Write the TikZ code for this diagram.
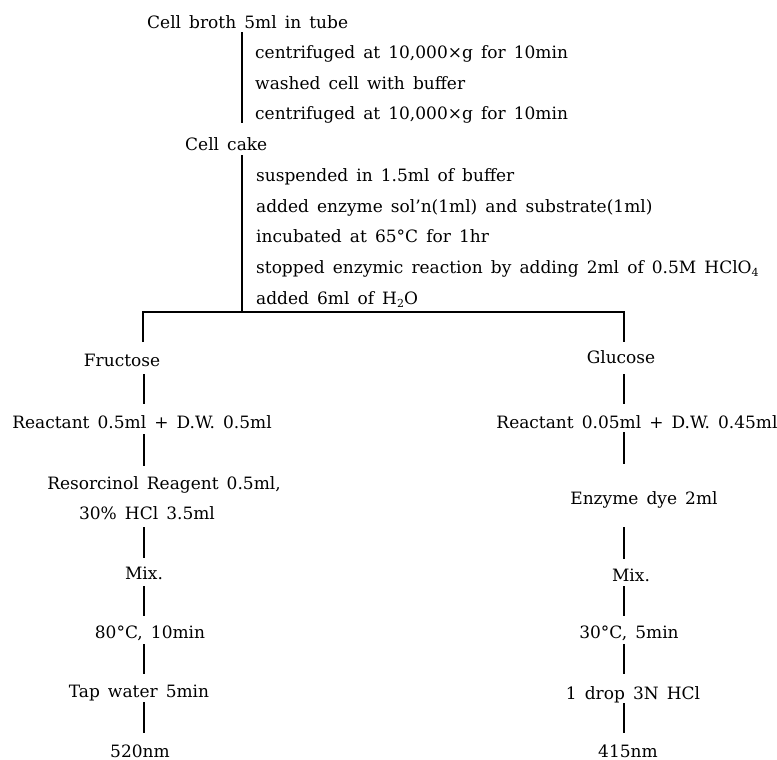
\documentclass[tikz,border=0pt]{standalone}
\usepackage{fontspec}
\setmainfont{DejaVu Serif}[WordSpace={1.5,0,0}]
\newcommand\subn[1]{\raisebox{-3pt}{\fontsize{11}{11}\selectfont #1}}
\newcommand\diagfont{\fontsize{17}{20}\selectfont}
\begin{document}
\begin{tikzpicture}[x=1pt,y=-1pt,
  txt/.style={inner sep=0pt,text height=12.5pt,text depth=0pt,font=\diagfont},
  lft/.style={txt,anchor=west},
  ln/.style={line width=1.7pt},
  conn/.style={ln,shorten <=7pt,shorten >=11pt}]
\useasboundingbox (0,0) rectangle (777,760);
% top sequence
\node[lft] (broth) at (147,22) {Cell broth 5ml in tube};
\node[lft] (s1) at (255,52.5) {centrifuged at 10,000×g for 10min};
\node[lft] (s2) at (255,83) {washed cell with buffer};
\node[lft] (s3) at (255,113.5) {centrifuged at 10,000×g for 10min};
\node[lft] (cake) at (185,144) {Cell cake};
\node[lft] (t1) at (256,175) {suspended in 1.5ml of buffer};
\node[lft] (t2) at (256,206) {added enzyme sol'n(1ml) and substrate(1ml)};
\node[lft] (t3) at (256,236.5) {incubated at 65°C for 1hr};
\node[lft] (t4) at (256,267) {stopped enzymic reaction by adding 2ml of 0.5M HClO\subn{4}};
\node[lft] (t5) at (256,298) {added 6ml of H\subn{2}O};
\coordinate (ax) at (242,0);
\coordinate (br) at (242,312);
\coordinate (bl) at (143,312);
\coordinate (brr) at (624,312);
\coordinate (tl) at (143,342);
\coordinate (tr) at (624,342);
\coordinate (cl) at (144,0);
\coordinate (cr) at (624,0);
\draw[ln,shorten <=4pt,shorten >=-3pt] (broth.south -| ax) -- (s3.south -| ax);
\draw[ln,shorten <=5pt] (cake.south -| br) -- (br);
\draw[ln] (tl) -- (bl) -- (brr) -- (tr);
% left column
\node[txt] (fru) at (122,360) {Fructose};
\node[txt] (rl) at (142,422) {Reactant 0.5ml + D.W. 0.5ml};
\node[txt] (res1) at (164,483) {Resorcinol Reagent 0.5ml,};
\node[txt] (res2) at (147,513) {30\% HCl 3.5ml};
\node[txt] (mixl) at (144,573) {Mix.};
\node[txt] (tl80) at (150,632) {80°C, 10min};
\node[txt] (tap) at (139,691) {Tap water 5min};
\node[txt] (nm520) at (140,751) {520nm};
% right column
\node[txt] (glu) at (621,357) {Glucose};
\node[txt] (rr) at (637,422) {Reactant 0.05ml + D.W. 0.45ml};
\node[txt] (dye) at (644,498) {Enzyme dye 2ml};
\node[txt] (mixr) at (631,575) {Mix.};
\node[txt] (t30) at (629,632) {30°C, 5min};
\node[txt] (drop) at (633,693) {1 drop 3N HCl};
\node[txt] (nm415) at (628,751) {415nm};
% left connectors
\draw[conn,shorten <=8pt,shorten >=12pt] (fru.south -| cl) -- (rl.north -| cl);
\draw[conn,shorten <=6pt] (rl.south -| cl) -- (res1.north -| cl);
\draw[conn,shorten <=8pt,shorten >=9pt] (res2.south -| cl) -- (mixl.north -| cl);
\draw[conn,shorten >=10pt] (mixl.south -| cl) -- (tl80.north -| cl);
\draw[conn,shorten <=6pt] (tl80.south -| cl) -- (tap.north -| cl);
\draw[conn,shorten <=5pt,shorten >=12pt] (tap.south -| cl) -- (nm520.north -| cl);
% right connectors
\draw[conn,shorten <=11pt,shorten >=12pt] (glu.south -| cr) -- (rr.north -| cr);
\draw[conn,shorten <=4pt,shorten >=28pt] (rr.south -| cr) -- (dye.north -| cr);
\draw[conn,shorten <=23pt,shorten >=10pt] (dye.south -| cr) -- (mixr.north -| cr);
\draw[conn,shorten <=5pt,shorten >=10pt] (mixr.south -| cr) -- (t30.north -| cr);
\draw[conn,shorten <=6pt,shorten >=13pt] (t30.south -| cr) -- (drop.north -| cr);
\draw[conn,shorten <=4pt,shorten >=12pt] (drop.south -| cr) -- (nm415.north -| cr);
\end{tikzpicture}
\end{document}
